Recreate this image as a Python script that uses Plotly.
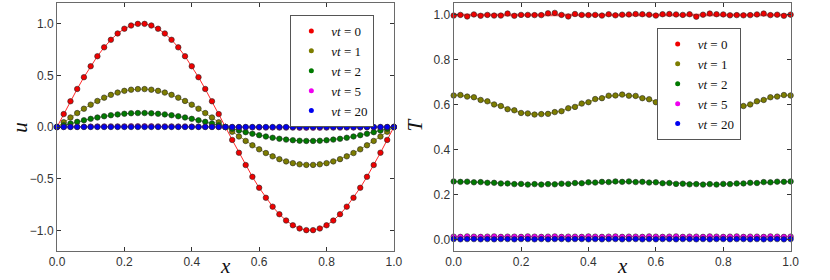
import plotly.graph_objects as go

# ---------------- data ----------------
X = [0.00, 0.02, 0.04, 0.06, 0.08, 0.10, 0.12, 0.14, 0.16, 0.18, 0.20, 0.22, 0.24, 0.26, 0.28, 0.30,
     0.32, 0.34, 0.36, 0.38, 0.40, 0.42, 0.44, 0.46, 0.48, 0.50, 0.52, 0.54, 0.56, 0.58, 0.60, 0.62,
     0.64, 0.66, 0.68, 0.70, 0.72, 0.74, 0.76, 0.78, 0.80, 0.82, 0.84, 0.86, 0.88, 0.90, 0.92, 0.94,
     0.96, 0.98, 1.00]

labels = ["<i>νt</i> = 0", "<i>νt</i> = 1", "<i>νt</i> = 2", "<i>νt</i> = 5", "<i>νt</i> = 20"]

# left panel: u(x)
u_0 = [0.000, 0.125, 0.249, 0.368, 0.482, 0.588, 0.685, 0.771, 0.844, 0.905, 0.951, 0.982, 0.998,
       0.998, 0.982, 0.951, 0.905, 0.844, 0.771, 0.685, 0.588, 0.482, 0.368, 0.249, 0.125, 0.000,
       -0.125, -0.249, -0.368, -0.482, -0.588, -0.685, -0.771, -0.844, -0.905, -0.951, -0.982, -0.998,
       -0.998, -0.982, -0.951, -0.905, -0.844, -0.771, -0.685, -0.588, -0.482, -0.368, -0.249, -0.125, 0.000]
u_1 = [0.000, 0.046, 0.092, 0.135, 0.177, 0.216, 0.252, 0.284, 0.311, 0.333, 0.350, 0.361, 0.367,
       0.367, 0.361, 0.350, 0.333, 0.311, 0.284, 0.252, 0.216, 0.177, 0.135, 0.092, 0.046, 0.000,
       -0.046, -0.092, -0.135, -0.177, -0.216, -0.252, -0.284, -0.311, -0.333, -0.350, -0.361, -0.367,
       -0.367, -0.361, -0.350, -0.333, -0.311, -0.284, -0.252, -0.216, -0.177, -0.135, -0.092, -0.046, 0.000]
u_2 = [0.000, 0.017, 0.034, 0.050, 0.065, 0.079, 0.092, 0.104, 0.114, 0.122, 0.128, 0.133, 0.135,
       0.135, 0.133, 0.128, 0.122, 0.114, 0.104, 0.092, 0.079, 0.065, 0.050, 0.034, 0.017, 0.000,
       -0.017, -0.034, -0.050, -0.065, -0.079, -0.092, -0.104, -0.114, -0.122, -0.128, -0.133, -0.135,
       -0.135, -0.133, -0.128, -0.122, -0.114, -0.104, -0.092, -0.079, -0.065, -0.050, -0.034, -0.017, 0.000]
u_5 = [0.000, 0.001, 0.002, 0.002, 0.003, 0.004, 0.005, 0.005, 0.006, 0.006, 0.006, 0.007, 0.007,
       0.007, 0.007, 0.006, 0.006, 0.006, 0.005, 0.005, 0.004, 0.003, 0.002, 0.002, 0.001, 0.000,
       -0.001, -0.002, -0.002, -0.003, -0.004, -0.005, -0.005, -0.006, -0.006, -0.006, -0.007, -0.007,
       -0.007, -0.007, -0.006, -0.006, -0.006, -0.005, -0.005, -0.004, -0.003, -0.002, -0.002, -0.001, 0.000]
u_20 = [0.0, 0.0, 0.0, 0.0, 0.0, 0.0, 0.0, 0.0, 0.0, 0.0, 0.0, 0.0, 0.0, 0.0, 0.0, 0.0, 0.0,
        0.0, 0.0, 0.0, 0.0, 0.0, 0.0, 0.0, 0.0, 0.0, 0.0, 0.0, 0.0, 0.0, 0.0, 0.0, 0.0, 0.0,
        0.0, 0.0, 0.0, 0.0, 0.0, 0.0, 0.0, 0.0, 0.0, 0.0, 0.0, 0.0, 0.0, 0.0, 0.0, 0.0, 0.0]

# right panel: T(x) markers (computed) and reference lines
T_0 = [0.997, 1.000, 0.993, 1.002, 0.996, 1.000, 0.997, 0.997, 1.006, 0.996, 1.000, 1.000, 0.999,
       0.999, 1.007, 1.009, 1.000, 0.993, 1.004, 1.000, 0.999, 1.000, 0.997, 1.003, 0.998, 1.001,
       1.002, 1.004, 1.003, 1.001, 0.997, 1.003, 1.004, 1.002, 1.000, 1.003, 0.992, 1.001, 1.006,
       1.003, 1.002, 0.998, 0.999, 0.998, 0.999, 1.002, 1.006, 0.999, 1.001, 0.996, 1.001]
T_1 = [0.641, 0.643, 0.636, 0.633, 0.621, 0.615, 0.601, 0.594, 0.580, 0.575, 0.563, 0.561, 0.556,
       0.558, 0.559, 0.567, 0.571, 0.584, 0.590, 0.605, 0.611, 0.625, 0.629, 0.640, 0.641, 0.645,
       0.640, 0.639, 0.629, 0.624, 0.611, 0.604, 0.590, 0.583, 0.571, 0.566, 0.558, 0.558, 0.555,
       0.561, 0.563, 0.574, 0.580, 0.594, 0.601, 0.615, 0.621, 0.633, 0.636, 0.643, 0.641]
T_2 = [0.258, 0.256, 0.257, 0.254, 0.255, 0.252, 0.252, 0.249, 0.249, 0.246, 0.247, 0.244, 0.246,
       0.244, 0.246, 0.245, 0.248, 0.247, 0.251, 0.250, 0.254, 0.253, 0.256, 0.255, 0.258, 0.256,
       0.258, 0.255, 0.256, 0.253, 0.254, 0.250, 0.251, 0.247, 0.248, 0.245, 0.246, 0.244, 0.246,
       0.244, 0.247, 0.246, 0.249, 0.249, 0.252, 0.251, 0.255, 0.254, 0.257, 0.256, 0.258]
T_5 = [0.012, 0.011, 0.013, 0.012, 0.011, 0.012, 0.013, 0.011, 0.012, 0.012, 0.011, 0.013, 0.012,
       0.011, 0.012, 0.013, 0.011, 0.012, 0.012, 0.011, 0.013, 0.012, 0.011, 0.012, 0.013, 0.011,
       0.012, 0.012, 0.011, 0.013, 0.012, 0.011, 0.012, 0.013, 0.011, 0.012, 0.012, 0.011, 0.013,
       0.012, 0.011, 0.012, 0.013, 0.011, 0.012, 0.012, 0.011, 0.013, 0.012, 0.011, 0.012]
T_20 = [0.001, 0.000, 0.001, 0.001, 0.000, 0.001, 0.000, 0.001, 0.001, 0.000, 0.001, 0.001, 0.000,
        0.001, 0.000, 0.001, 0.001, 0.000, 0.001, 0.001, 0.000, 0.001, 0.000, 0.001, 0.001, 0.000,
        0.001, 0.001, 0.000, 0.001, 0.000, 0.001, 0.001, 0.000, 0.001, 0.001, 0.000, 0.001, 0.000,
        0.001, 0.001, 0.000, 0.001, 0.001, 0.000, 0.001, 0.000, 0.001, 0.001, 0.000, 0.001]

T_line_0 = [1.0, 1.0]
T_line_1 = [0.643, 0.642, 0.638, 0.631, 0.623, 0.613, 0.603, 0.592, 0.582, 0.573, 0.565, 0.560, 0.557,
            0.557, 0.560, 0.565, 0.573, 0.582, 0.592, 0.603, 0.613, 0.623, 0.631, 0.638, 0.642, 0.643,
            0.642, 0.638, 0.631, 0.623, 0.613, 0.603, 0.592, 0.582, 0.573, 0.565, 0.560, 0.557, 0.557,
            0.560, 0.565, 0.573, 0.582, 0.592, 0.603, 0.613, 0.623, 0.631, 0.638, 0.642, 0.643]
T_line_2 = [0.257, 0.257, 0.256, 0.255, 0.254, 0.253, 0.251, 0.250, 0.248, 0.247, 0.246, 0.245, 0.245,
            0.245, 0.245, 0.246, 0.247, 0.248, 0.250, 0.251, 0.253, 0.254, 0.255, 0.256, 0.257, 0.257,
            0.257, 0.256, 0.255, 0.254, 0.253, 0.251, 0.250, 0.248, 0.247, 0.246, 0.245, 0.245, 0.245,
            0.245, 0.246, 0.247, 0.248, 0.250, 0.251, 0.253, 0.254, 0.255, 0.256, 0.257, 0.257]
T_line_5 = [0.012, 0.012]
T_line_20 = [0.0005, 0.0005]
X_ends = [0.0, 1.0]

x_ticks = [0.0, 0.2, 0.4, 0.6, 0.8, 1.0]
u_ticks = [-1.0, -0.5, 0.0, 0.5, 1.0]
T_ticks = [0.0, 0.2, 0.4, 0.6, 0.8, 1.0]

# ---------------- styles ----------------
marker_cols = ["#f00000", "#7d7d00", "#007a00", "#f000f0", "#0000f0"]
line_cols_l = ["#ff2a2a", "#a5a535", "#2f8a2f", "#ff00ff", "#1a1aff"]
line_cols_r = ["#f25555", "#b3b33f", "#3a933a", "#ff33ff", "#2222ff"]
line_w_r = [2.5, 1.6, 1.4, 1.4, 1.4]

fig = go.Figure()

U = [u_0, u_1, u_2, u_5, u_20]
for i, u in enumerate(U):
    fig.add_trace(go.Scatter(
        x=X, y=u, mode="lines+markers", showlegend=False, cliponaxis=False, hoverinfo="skip",
        line=dict(color=line_cols_l[i], width=1),
        marker=dict(color=marker_cols[i], size=5.5, line=dict(color="#262626", width=0.6)),
        xaxis="x", yaxis="y"))

T_pts = [T_0, T_1, T_2, T_5, T_20]
T_lines = [(X_ends, T_line_0), (X, T_line_1), (X, T_line_2), (X_ends, T_line_5), (X_ends, T_line_20)]
for i in range(5):
    lx, ly = T_lines[i]
    fig.add_trace(go.Scatter(
        x=lx, y=ly, mode="lines", showlegend=False, cliponaxis=False, hoverinfo="skip",
        line=dict(color=line_cols_r[i], width=line_w_r[i]),
        xaxis="x2", yaxis="y2"))
    fig.add_trace(go.Scatter(
        x=X, y=T_pts[i], mode="markers", showlegend=False, cliponaxis=False, hoverinfo="skip",
        marker=dict(color=marker_cols[i], size=5.5, line=dict(color="#262626", width=0.6)),
        xaxis="x2", yaxis="y2"))

# legend-only entries
for leg, xa, ya in [("legend", "x", "y"), ("legend2", "x2", "y2")]:
    for i in range(5):
        fig.add_trace(go.Scatter(
            x=[None], y=[None], mode="markers", name=labels[i], legend=leg,
            marker=dict(color=marker_cols[i], size=5),
            xaxis=xa, yaxis=ya))

W, H = 830, 280


def px(v):
    return v / W


def py(v):
    return 1 - v / H


axis_common = dict(showline=True, mirror="ticks", linecolor="#6a6a6a", linewidth=1,
                   ticks="inside", ticklen=4, tickcolor="#333333", tickwidth=1,
                   showgrid=False, zeroline=False,
                   tickfont=dict(family="Liberation Sans, Arial, sans-serif", size=12, color="#333333"))

ydom = [py(251), py(3)]
leg_font = dict(family="Liberation Serif, serif", size=13, color="#111111")
fig.update_layout(
    width=W, height=H, margin=dict(l=0, r=0, t=0, b=0),
    paper_bgcolor="white", plot_bgcolor="white", hovermode=False,
    xaxis=dict(domain=[px(50), px(394)], range=[0, 1], tickvals=x_ticks, tickformat=".1f",
               anchor="y", **axis_common),
    yaxis=dict(domain=ydom, range=[-1.2, 1.2], tickvals=u_ticks, tickformat=".1f",
               anchor="x", **axis_common),
    xaxis2=dict(domain=[px(455), px(799)], range=[0, 1], tickvals=x_ticks, tickformat=".1f",
                anchor="y2", **axis_common),
    yaxis2=dict(domain=ydom, range=[-0.052, 1.053], tickvals=T_ticks, tickformat=".1f",
                anchor="x2", **axis_common),
    legend=dict(x=px(374), y=py(15), xanchor="right", yanchor="top",
                bgcolor="white", bordercolor="#555555", borderwidth=1,
                font=leg_font, itemwidth=30, tracegroupgap=0),
    legend2=dict(x=px(748), y=py(28), xanchor="right", yanchor="top",
                 bgcolor="white", bordercolor="#555555", borderwidth=1,
                 font=leg_font, itemwidth=30, tracegroupgap=0),
)

title_font = dict(family="Liberation Serif, serif", size=21, color="#111111")
for txt, ax, ay, ang, xa, ya in [("<i>u</i>", 12, 127, -90, "center", "middle"),
                                 ("<i>x</i>", 222, 280, 0, "center", "bottom"),
                                 ("<i>T</i>", 416, 125, -90, "center", "middle"),
                                 ("<i>x</i>", 627, 280, 0, "center", "bottom")]:
    fig.add_annotation(text=txt, x=px(ax), y=py(ay), xref="paper", yref="paper",
                       xanchor=xa, yanchor=ya, textangle=ang,
                       showarrow=False, font=title_font)

fig.write_html("out.html", post_script="document.body.style.margin='0';",
               config={"displayModeBar": False})
